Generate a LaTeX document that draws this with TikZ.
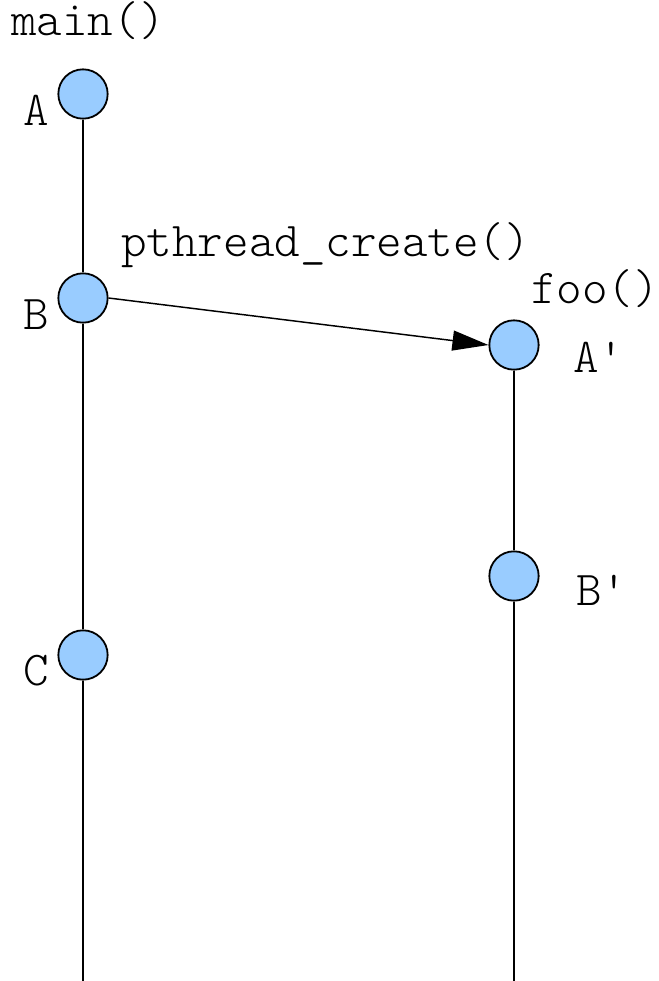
\documentclass[tikz,border=0pt]{standalone}
\usepackage{fontspec}
\newfontfamily\codefont{Latin Modern Mono Light}
\usetikzlibrary{arrows.meta}
\definecolor{evtblue}{HTML}{99CCFF}
\tikzset{
  evt/.style={circle, draw=black, fill=evtblue, line width=1.35pt, minimum size=37pt, inner sep=0pt},
  lbl/.style={inner sep=0pt, anchor=base west, font=\codefont\fontsize{36.5}{40}\selectfont},
  life/.style={line width=1.1pt},
}
\begin{document}
\begin{tikzpicture}[x=0.75pt, y=-0.75pt]
\useasboundingbox (0,0) rectangle (659,981);
% events
\node[evt] (A) at (83,94) {};
\node[evt] (B) at (83,298) {};
\node[evt] (C) at (83,655) {};
\node[evt] (Ap) at (514,345) {};
\node[evt] (Bp) at (514,576) {};
\coordinate (Lend) at (83,981);
\coordinate (Rend) at (514,981);
% lifelines
\draw[life] (A.south) -- (B.north);
\draw[life] (B.south) -- (C.north);
\draw[life] (C.south) -- (Lend);
\draw[life] (Ap.south) -- (Bp.north);
\draw[life] (Bp.south) -- (Rend);
% create arrow
\draw[life, -{Triangle[length=27pt, width=15pt]}] (B.east) -- (Ap.west);
% labels
\node[lbl] (tmain) at (11,36) {main()};
\node[lbl] (tpc) at (121,256) {pthread\_create()};
\node[lbl] (tfoo) at (531,303) {foo()};
\node[lbl] (lA) at (23,125) {A};
\node[lbl] (lB) at (23,329) {B};
\node[lbl] (lC) at (23,685) {C};
\node[lbl] (lAp) at (573,372) {A'};
\node[lbl] (lBp) at (576,605) {B'};
\end{tikzpicture}
\end{document}
